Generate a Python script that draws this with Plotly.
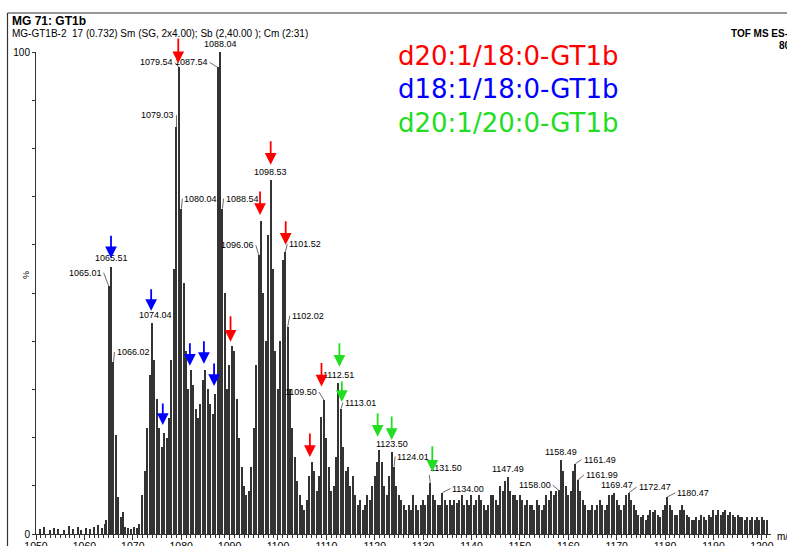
import plotly.graph_objects as go

# ---------------- data ----------------
noise_mz = [1050.8, 1051.6, 1052.9, 1053.7, 1054.6, 1055.9, 1056.8, 1057.7, 1058.6, 1059.4,
            1060.3, 1061.2, 1062.0, 1062.9, 1063.6, 1064.3]
noise_int = [1.0, 1.5, 0.8, 1.2, 1.0, 0.8, 1.6, 1.0, 1.4, 0.9, 1.2, 1.0, 1.5, 1.8, 1.2, 2.0]

c1065_mz = [1064.5, 1065.01, 1065.51, 1066.02, 1066.5, 1067.0, 1067.5, 1068.0, 1068.5, 1069.0,
            1069.6, 1070.2, 1070.8, 1071.4]
c1065_int = [3, 51.5, 55.4, 35.7, 20.5, 7.7, 3.5, 4.5, 1.5, 1.2, 1.0, 1.5, 1.2, 2.0]

c1080_mz = [1072.0, 1072.5, 1073.0, 1073.54, 1074.04, 1074.5, 1075.0, 1075.5, 1076.0, 1076.5,
            1077.0, 1077.5, 1078.0, 1078.5, 1079.03, 1079.54, 1080.04, 1080.5, 1081.0, 1081.5,
            1082.0, 1082.5, 1083.0, 1083.5, 1084.0, 1084.5, 1085.0, 1085.5, 1086.0, 1086.5,
            1087.0, 1087.54, 1088.04, 1088.54, 1089.0, 1089.5, 1090.0, 1090.5, 1091.0, 1091.5,
            1092.0, 1092.5, 1093.0, 1093.5]
c1080_int = [8, 13, 22, 33, 43.7, 36, 28, 22, 18, 21,
             20, 24, 36, 55, 84.4, 96.8, 67.5, 52, 38, 30,
             34, 31, 26, 24, 27, 32, 34, 30, 27, 25,
             29, 96.8, 100, 67.5, 50, 30, 35, 39, 38, 28,
             20, 14, 10, 8]

c1098_mz = [1094.0, 1094.5, 1095.0, 1095.5, 1096.06, 1096.56, 1097.0, 1097.5, 1098.0, 1098.53,
            1099.0, 1099.5, 1100.0, 1100.5, 1101.02, 1101.52, 1102.02, 1102.5, 1103.0, 1103.5,
            1104.0, 1104.5, 1105.0, 1105.5, 1106.0, 1106.5, 1107.0, 1107.5, 1108.0, 1108.5,
            1109.0, 1109.50, 1110.0, 1110.5, 1111.0, 1111.5, 1112.0, 1112.51, 1113.01, 1113.5]
c1098_int = [9, 14, 22, 35, 57.8, 65, 50, 40, 62, 73.4,
             55, 38, 30, 40, 56.8, 58.5, 43, 30, 22, 16,
             11, 8, 6, 5, 7, 12, 15, 13, 9, 12,
             24.3, 27.8, 20, 14, 9, 10, 16, 31.3, 26, 18]

tail_mz = [1114.0, 1114.5, 1115.0, 1115.5, 1116.0, 1116.5, 1117.0, 1117.5, 1118.0, 1118.5,
           1119.0, 1119.5, 1120.0, 1120.5, 1121.0, 1121.5, 1122.0, 1122.5, 1123.0, 1123.50,
           1124.01, 1124.5, 1125.0, 1125.5, 1126.0, 1126.5, 1127.0, 1127.5, 1128.0, 1128.5,
           1129.0, 1129.5, 1130.0, 1130.5, 1131.0, 1131.50, 1132.0, 1132.5, 1133.0, 1133.5,
           1134.00, 1134.5, 1135.0, 1135.5, 1136.0, 1136.5, 1137.0, 1137.5, 1138.0, 1138.5,
           1139.0, 1139.5, 1140.0, 1140.5, 1141.0, 1141.5, 1142.0, 1142.5, 1143.0, 1143.5,
           1144.0, 1144.5, 1145.0, 1145.5, 1146.0, 1146.5, 1147.0, 1147.49, 1148.0, 1148.5,
           1149.0, 1149.5, 1150.0, 1150.5, 1151.0, 1151.5, 1152.0, 1152.5, 1153.0, 1153.5,
           1154.0, 1154.5, 1155.0, 1155.5, 1156.0, 1156.5, 1157.0, 1157.5, 1158.00, 1158.49,
           1159.0, 1159.5, 1160.0, 1160.5, 1161.0, 1161.49, 1161.99, 1162.5, 1163.0, 1163.5,
           1164.0, 1164.5, 1165.0, 1165.5, 1166.0, 1166.5, 1167.0, 1167.5, 1168.0, 1168.5,
           1169.0, 1169.47, 1170.0, 1170.5, 1171.0, 1171.5, 1172.0, 1172.47, 1173.0, 1173.5,
           1174.0, 1174.5, 1175.0, 1175.5, 1176.0, 1176.5, 1177.0, 1177.5, 1178.0, 1178.5,
           1179.0, 1179.5, 1180.0, 1180.47, 1181.0, 1181.5, 1182.0, 1182.5, 1183.0, 1183.5,
           1184.0, 1184.5, 1185.0, 1185.5, 1186.0, 1186.5, 1187.0, 1187.5, 1188.0, 1188.5,
           1189.0, 1189.5, 1190.0, 1190.5, 1191.0, 1191.5, 1192.0, 1192.5, 1193.0, 1193.5,
           1194.0, 1194.5, 1195.0, 1195.5, 1196.0, 1196.5, 1197.0, 1197.5, 1198.0, 1198.5,
           1199.0, 1199.5, 1200.0, 1200.5, 1201.0]
tail_int = [13, 14, 10, 12, 8, 6, 7, 5, 6, 8,
            7, 10, 12, 15, 17.4, 15, 10, 8, 12, 17,
            14, 10, 8, 7, 6, 5, 6, 5, 8, 6,
            5, 6, 7, 6, 8, 10.5, 8, 7, 6, 6,
            8.6, 7, 6, 7, 6, 7, 6.5, 7, 8, 6,
            7, 6, 8, 6, 7, 8, 7, 6, 5, 6,
            8, 8, 7, 6, 10, 9, 11, 11.9, 9, 8,
            8, 7, 8, 7, 6, 7, 6, 6, 5, 7,
            6, 5, 6, 8, 7, 9, 8, 9, 9.1, 15.3,
            13, 10, 8, 9, 13, 14.6, 11.2, 9, 7, 6,
            5, 5, 6, 5, 6, 7, 6, 5, 6, 8,
            8, 8.5, 7, 6, 5, 6, 8, 8.5, 7, 6,
            5, 4, 3.5, 4, 3, 4, 5, 4.5, 5, 4,
            3.5, 5, 6, 7.7, 6, 5, 4, 4, 5, 6,
            5, 4, 3.5, 3, 3, 3.5, 3, 4, 3.5, 3,
            4, 3.5, 5, 4, 5, 4, 4.5, 5, 4, 4.5,
            4, 3.5, 4, 3.5, 3.5, 3, 3.5, 3, 3.5, 3,
            3.5, 3, 3.5, 3, 3]

# labelled peaks: text, m/z, intensity
peak_labels = [
    ("1065.01", 1065.01, 51.5), ("1065.51", 1065.51, 55.4), ("1066.02", 1066.02, 35.7),
    ("1074.04", 1074.04, 43.7), ("1079.03", 1079.03, 84.4), ("1079.54", 1079.54, 96.8),
    ("1080.04", 1080.04, 67.5), ("1087.54", 1087.54, 96.8), ("1088.04", 1088.04, 100),
    ("1088.54", 1088.54, 67.5), ("1096.06", 1096.06, 57.8), ("1098.53", 1098.53, 73.4),
    ("1101.52", 1101.52, 58.5), ("1102.02", 1102.02, 43), ("1109.50", 1109.50, 27.8),
    ("1112.51", 1112.51, 31.3), ("1113.01", 1113.01, 26), ("1123.50", 1123.50, 17),
    ("1124.01", 1124.01, 14), ("1131.50", 1131.50, 10.5), ("1134.00", 1134.00, 8.6),
    ("1147.49", 1147.49, 11.9), ("1158.00", 1158.00, 9.1), ("1158.49", 1158.49, 15.3),
    ("1161.49", 1161.49, 14.6), ("1161.99", 1161.99, 11.2), ("1169.47", 1169.47, 8.5),
    ("1172.47", 1172.47, 8.5), ("1180.47", 1180.47, 7.7),
]
# label placement: (leader?, dx, dy, xanchor)
label_place = [
    (True, -5, -13, "right"), (False, 0, 2, "center"), (True, 1, -10, "left"),
    (False, 3, 1, "center"), (True, 0, -12, "right"), (True, -4, -5, "right"),
    (True, 1, -10, "left"), (True, -8, -5, "right"), (False, 0, 1, "center"),
    (True, 1, -10, "left"), (True, -3, -10, "right"), (False, 0, 1, "center"),
    (True, 2, -8, "left"), (True, 2, -11, "left"), (True, -5, -8, "right"),
    (False, 0, 1, "center"), (True, 2, -6, "left"), (False, 0, 1, "center"),
    (True, 1, -10, "left"), (True, -2, -15, "left"), (True, 8, -4, "left"),
    (False, 0, 1, "center"), (True, -6, -5, "right"), (False, 0, 1, "center"),
    (True, 6, -4, "left"), (True, 6, -5, "left"), (False, 3, 1, "center"),
    (True, 8, -6, "left"), (True, 8, -4, "left"),
]

# marker arrows: m/z, tip intensity, arrow length (px)
red_arrows = [(1088.04, 101.5, 45), (1079.4, 97.7, 26), (1098.5, 76.6, 25), (1096.3, 66.2, 25),
              (1101.6, 60.0, 25), (1090.2, 39.9, 27), (1109.0, 30.6, 25), (1106.6, 16.0, 25)]
blue_arrows = [(1065.5, 57.2, 24), (1073.8, 46.3, 23), (1076.2, 22.6, 23), (1081.8, 34.9, 24),
               (1084.7, 35.3, 24), (1086.8, 30.7, 24)]
green_arrows = [(1112.7, 34.7, 25), (1113.2, 27.4, 22), (1120.6, 20.2, 25), (1123.5, 19.5, 25),
                (1131.9, 12.9, 27)]

legend_texts = ["d20:1/18:0-GT1b", "d18:1/18:0-GT1b", "d20:1/20:0-GT1b"]
legend_colors = ["#ff0000", "#0000ff", "#22dd22"]
x_ticks = [1050, 1060, 1070, 1080, 1090, 1100, 1110, 1120, 1130, 1140, 1150, 1160, 1170, 1180, 1190, 1200]
y_ticks = [0, 10, 20, 30, 40, 50, 60, 70, 80, 90, 100]
y_ticktext = ["0", "", "", "", "", "", "", "", "", "", "100"]

# ---------------- figure ----------------
W, H = 787, 546
L, R, T, B = 36, 16, 52, 12
FONT = "Liberation Sans, Arial, sans-serif"
AX = "#333333"

mz = noise_mz + c1065_mz + c1080_mz + c1098_mz + tail_mz
inten = noise_int + c1065_int + c1080_int + c1098_int + tail_int

fig = go.Figure()
fig.add_trace(go.Bar(x=mz, y=inten, width=0.24,
                     marker=dict(color="#333333", line=dict(width=0)),
                     hoverinfo="x+y", showlegend=False))

pw = W - L - R
ph = H - T - B


def px_x(px):
    return (px - L) / pw


def px_y(py):
    return (H - B - py) / ph


ann = []
# header texts
ann.append(dict(x=px_x(10), y=px_y(21), xref="paper", yref="paper", text="<b>MG 71: GT1b</b>",
                showarrow=False, xanchor="left", yanchor="middle",
                font=dict(family=FONT, size=12, color="black")))
ann.append(dict(x=px_x(10), y=px_y(34), xref="paper", yref="paper",
                text="MG-GT1B-2  17 (0.732) Sm (SG, 2x4.00); Sb (2,40.00 ); Cm (2:31)",
                showarrow=False, xanchor="left", yanchor="middle",
                font=dict(family=FONT, size=10, color="black")))
ann.append(dict(x=px_x(729), y=px_y(34), xref="paper", yref="paper", text="<b>TOF MS ES-</b>",
                showarrow=False, xanchor="left", yanchor="middle",
                font=dict(family=FONT, size=10, color="black")))
ann.append(dict(x=px_x(777), y=px_y(45), xref="paper", yref="paper", text="<b>80</b>",
                showarrow=False, xanchor="left", yanchor="middle",
                font=dict(family=FONT, size=10, color="black")))
ann.append(dict(x=px_x(26), y=px_y(275), xref="paper", yref="paper", text="%",
                showarrow=False, textangle=-90, xanchor="center", yanchor="middle",
                font=dict(family=FONT, size=9, color="black")))
ann.append(dict(x=px_x(775), y=px_y(536), xref="paper", yref="paper", text="m/z",
                showarrow=False, xanchor="left", yanchor="middle",
                font=dict(family=FONT, size=10, color="black")))

# legend texts
for i, (t, c) in enumerate(zip(legend_texts, legend_colors)):
    ann.append(dict(x=px_x(396), y=px_y(56 + 33.5 * i), xref="paper", yref="paper", text=t,
                    showarrow=False, xanchor="left", yanchor="middle",
                    font=dict(family="DejaVu Sans, sans-serif", size=26, color=c)))

# peak labels
for (t, m, v), (lead, dx, dy, xa) in zip(peak_labels, label_place):
    if lead:
        ann.append(dict(x=m, y=v, xref="x", yref="y", text=t, showarrow=True,
                        arrowhead=0, arrowwidth=0.8, arrowcolor="#444444",
                        ax=dx, ay=dy, xanchor=xa, yanchor="middle", standoff=0,
                        font=dict(family=FONT, size=9, color="black")))
    else:
        ann.append(dict(x=m, y=v, xref="x", yref="y", text=t, showarrow=False,
                        xanchor="center", yanchor="bottom", xshift=dx, yshift=dy,
                        font=dict(family=FONT, size=9, color="black")))

# coloured marker arrows
for arr, col in ((red_arrows, "#ff0000"), (blue_arrows, "#0000ff"), (green_arrows, "#22dd22")):
    for m, v, ln in arr:
        ann.append(dict(x=m, y=v, xref="x", yref="y", text="", showarrow=True,
                        arrowhead=2, arrowsize=1.3, arrowwidth=1.8, arrowcolor=col,
                        ax=0, ay=-ln, standoff=0))

shapes = [
    dict(type="line", xref="paper", yref="paper", x0=px_x(7.5), x1=px_x(787), y0=px_y(13), y1=px_y(13),
         line=dict(color=AX, width=1.2)),
    dict(type="line", xref="paper", yref="paper", x0=px_x(7.5), x1=px_x(7.5), y0=px_y(13), y1=px_y(546),
         line=dict(color=AX, width=1.2)),
]

fig.update_layout(
    width=W, height=H, margin=dict(l=L, r=R, t=T, b=B, autoexpand=False),
    paper_bgcolor="white", plot_bgcolor="white", template="none",
    annotations=ann, shapes=shapes, showlegend=False, bargap=0,
    font=dict(family=FONT, size=10, color="black"),
    xaxis=dict(range=[1050, 1050 + pw / 4.839], tickvals=x_ticks, ticks="outside", ticklen=5,
               tickcolor=AX, showline=True, linecolor=AX, linewidth=1, showgrid=False,
               zeroline=False, automargin=False, tickfont=dict(family=FONT, size=10.5),
               ticklabelstandoff=-3,
               minor=dict(dtick=1, ticks="outside", ticklen=2.5, tickcolor=AX, showgrid=False)),
    yaxis=dict(range=[0, 100], tickvals=y_ticks, ticktext=y_ticktext, ticks="outside", ticklen=3,
               tickcolor=AX, showline=True, linecolor=AX, linewidth=1, showgrid=False,
               zeroline=False, automargin=False, tickfont=dict(family=FONT, size=10)),
)

fig.write_html("out.html", config={"displayModeBar": False},
               post_script="document.body.style.margin='0';document.body.style.overflow='hidden';")
